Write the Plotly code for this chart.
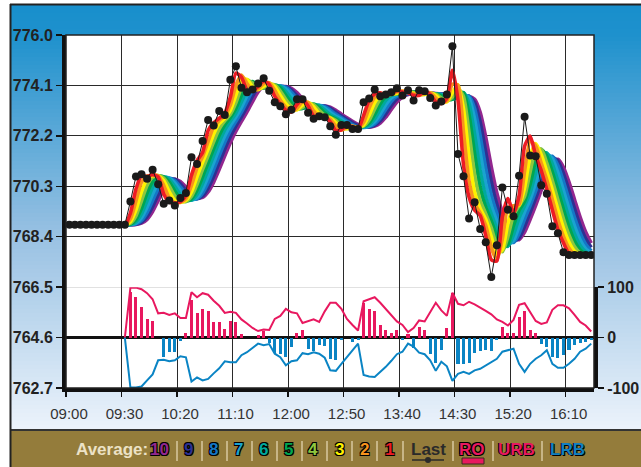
import plotly.graph_objects as go

# ---------------- data ----------------
time_labels = ["09:00", "09:30", "10:20", "11:10", "12:00", "12:50", "13:40", "14:30", "15:20", "16:10"]
price_ticks = [762.7, 764.6, 766.5, 768.4, 770.3, 772.2, 774.1, 776.0]
osc_ticks = [-100, 0, 100]

last_price = [
    768.85, 768.85, 768.85, 768.85, 768.85, 768.85, 768.85, 768.85, 768.85, 768.85, 768.85,
    769.73, 770.67, 770.75, 770.58, 770.92, 770.38, 769.64, 769.76, 769.58, 769.86,
    770.05, 771.39, 771.14, 772.01, 772.80, 772.59, 773.14, 772.99, 774.31, 774.82,
    774.01, 773.84, 773.95, 774.17, 774.37, 773.90, 773.47, 773.32, 773.01, 773.18,
    773.58, 773.58, 773.07, 772.84, 772.94, 772.90, 772.56, 772.24, 772.61, 772.61,
    772.46, 772.46, 773.47, 773.61, 773.95, 773.69, 773.76, 773.84, 773.99, 773.72,
    773.92, 773.53, 773.92, 773.88, 773.63, 773.34, 773.49, 773.76, 775.58, 771.52,
    770.68, 769.09, 769.70, 768.69, 768.19, 766.88, 768.08, 770.25, 769.42, 769.17,
    770.70, 772.92, 771.46, 771.43, 770.34, 770.02, 768.79, 768.53, 767.81, 767.71,
    767.71, 767.71, 767.71, 767.71,
]

rainbow_osc = [
    0, 0, 0, 0, 0, 0, 0, 0, 0, 0, 0,
    91, 81, 61, 37, 33, 0, -38, -28, -28, -7,
    10, 75, 48, 56, 52, 30, 30, 17, 32, 31,
    7, 0, 0, 5, 14, -11, -30, -33, -38, -18,
    10, 15, -22, -27, -14, -17, -42, -44, -5, 0,
    -9, -5, 69, 56, 52, 25, 16, 10, 16, -5,
    7, -20, 20, 16, -32, -50, -25, 18, 89, -53,
    -52, -50, -30, -26, -24, -27, -5, 21, 9, 9,
    41, 53, 16, 9, -12, -18, -38, -40, -35, -24,
    -15, -10, -8, -5,
]

upper_band = [None] * 10 + [
    0, 99, 99, 96, 88, 76, 48, 49, 45, 48,
    39, 39, 90, 80, 88, 85, 73, 63, 49, 51,
    49, 36, 28, 19, 13, 16, 15, 37, 43, 57,
    50, 48, 29, 32, 36, 31, 52, 69, 69, 57,
    37, 25, 14, 72, 76, 80, 69, 57, 45, 32,
    25, 11, 19, 34, 32, 50, 69, 54, 43, 89,
    67, 64, 71, 66, 60, 53, 46, 36, 31, 24,
    35, 65, 68, 50, 33, 27, 30, 55, 64, 64,
    58, 45, 31, 24, 12,
]

lower_band = [None] * 10 + [
    0, -99, -99, -97, -85, -73, -45, -44, -47, -45,
    -37, -39, -87, -79, -85, -82, -71, -61, -47, -49,
    -49, -35, -29, -20, -12, -15, -13, -32, -39, -55,
    -47, -45, -31, -33, -29, -32, -40, -65, -66, -52,
    -38, -25, -12, -74, -77, -78, -68, -58, -46, -33,
    -28, -12, -18, -30, -33, -45, -66, -48, -57, -86,
    -72, -68, -72, -65, -62, -55, -48, -42, -28, -25,
    -22, -52, -68, -52, -42, -35, -25, -52, -60, -60,
    -52, -42, -28, -22, -12,
]

ma_names = ["1", "2", "3", "4", "5", "6", "7", "8", "9", "10"]
ma_colors = ["#ed1c24", "#f7941d", "#fff200", "#8dc63f", "#00a651",
             "#00a99d", "#1aa3d0", "#1477c6", "#2e3192", "#92278f"]

# ---------------- derived rainbow averages (recursive 2-period SMA of the price) ----------------
def sma2(s):
    return [s[0]] + [(s[i - 1] + s[i]) / 2.0 for i in range(1, len(s))]

mas = []
cur = last_price
for _ in range(10):
    cur = sma2(cur)
    mas.append(cur)

n = len(last_price)
xs = list(range(n))

# ---------------- geometry helpers (pixel -> paper) ----------------
W, H = 641, 467
PL, PR, PT, PB = 66, 594, 35, 388
def px(x):
    return (x - PL) / (PR - PL)
def py(y):
    return (PB - y) / (PB - PT)

fig = go.Figure()

# rainbow lines: 10 at the back, 1 on top
for k in range(9, -1, -1):
    fig.add_trace(go.Scatter(
        x=xs, y=mas[k], mode="lines", name=ma_names[k],
        line=dict(color=ma_colors[k], width=3.6, shape="spline", smoothing=0.6),
        yaxis="y", hoverinfo="skip", showlegend=False))

fig.add_trace(go.Scatter(
    x=xs, y=last_price, mode="lines+markers", name="Last",
    line=dict(color="#1a1a1a", width=1),
    marker=dict(color="#1a1a1a", size=8),
    yaxis="y", hoverinfo="skip", showlegend=False))

# oscillator
bar_colors = ["#e8185f" if v >= 0 else "#0a84c4" for v in rainbow_osc]
fig.add_trace(go.Bar(x=xs, y=rainbow_osc, marker=dict(color=bar_colors, line=dict(width=0)),
                     width=0.55, yaxis="y2", hoverinfo="skip", showlegend=False))
fig.add_trace(go.Scatter(x=xs, y=upper_band, mode="lines", line=dict(color="#e8185f", width=2),
                         yaxis="y2", hoverinfo="skip", showlegend=False))
fig.add_trace(go.Scatter(x=xs, y=lower_band, mode="lines", line=dict(color="#0a84c4", width=2),
                         yaxis="y2", hoverinfo="skip", showlegend=False))

# ---------------- background shapes ----------------
shapes = []
def lerp(a, b, t):
    return tuple(a[i] + (b[i] - a[i]) * t for i in range(3))
stops = [(5, (24, 143, 204)), (35, (30, 145, 205)), (230, (150, 192, 226)), (430, (236, 243, 251))]
def grad(y):
    for j in range(len(stops) - 1):
        y0, c0 = stops[j]
        y1, c1 = stops[j + 1]
        if y <= y1:
            t = max(0.0, (y - y0) / (y1 - y0))
            return lerp(c0, c1, t)
    return stops[-1][1]

step = 4
y = 5
while y < 430:
    c = grad(y + step / 2)
    shapes.append(dict(type="rect", xref="paper", yref="paper", layer="below",
                       x0=px(11), x1=px(W + 2), y0=py(y), y1=py(min(y + step + 0.6, 430)),
                       line=dict(width=0), fillcolor="rgb(%d,%d,%d)" % tuple(int(round(v)) for v in c)))
    y += step
# white plot area
shapes.append(dict(type="rect", xref="paper", yref="paper", layer="below", x0=0, x1=1, y0=0, y1=1,
                   line=dict(width=0), fillcolor="white"))
# legend bar
shapes.append(dict(type="rect", xref="paper", yref="paper", layer="below",
                   x0=px(11), x1=px(W + 2), y0=py(430), y1=py(H + 2),
                   line=dict(width=0), fillcolor="#947c3b"))
shapes.append(dict(type="line", xref="paper", yref="paper", x0=px(11), x1=px(W + 2), y0=py(430), y1=py(430),
                   line=dict(color="#333333", width=2)))
# outer border
shapes.append(dict(type="line", xref="paper", yref="paper", x0=px(10), x1=px(W + 2), y0=py(4.5), y1=py(4.5),
                   line=dict(color="#222222", width=2)))
shapes.append(dict(type="line", xref="paper", yref="paper", x0=px(10.5), x1=px(10.5), y0=py(4), y1=py(H + 2),
                   line=dict(color="#222222", width=2)))
# thin plot frame (top / right)
shapes.append(dict(type="rect", xref="paper", yref="paper", x0=0, x1=1, y0=0, y1=1,
                   line=dict(color="#222222", width=1.5)))

# ---------------- legend bar texts ----------------
annotations = []
LY = py(449.5)
outline = "1px 1px 0 #000, -1px -1px 0 #000, 1px -1px 0 #000, -1px 1px 0 #000"
def txt(x, s, color, shadow=None, size=16):
    f = dict(family="Liberation Sans, Arial, sans-serif", size=size, color=color, weight="bold")
    if shadow:
        f["shadow"] = shadow
    annotations.append(dict(x=px(x), y=LY, xref="paper", yref="paper", text=s, showarrow=False,
                            xanchor="center", yanchor="middle", font=f))

txt(112, "Average:", "#ece2c6", size=17)
num_x = [159, 188, 213, 238, 263, 288, 313, 339, 364, 389]
for j, k in enumerate(range(9, -1, -1)):
    txt(num_x[j], ma_names[k], ma_colors[k], outline, size=17)
txt(428, "Last", "#2a2a2a", size=17)
txt(472, "RO", "#e8185f", outline, size=17)
txt(516, "URB", "#e8185f", "1px 1px 0 #000, -1px 0 0 #000", size=17)
txt(567, "LRB", "#1280c3", "1px 1px 0 #000, -1px 0 0 #000", size=17)

for sx in [177, 202, 227, 252, 277, 302, 327, 352, 377, 403, 453, 493, 542]:
    shapes.append(dict(type="line", xref="paper", yref="paper", x0=px(sx), x1=px(sx), y0=py(441), y1=py(461),
                       line=dict(color="#d8c8a0", width=1.5)))
# "Last" underline with dot, "RO" swatch
shapes.append(dict(type="line", xref="paper", yref="paper", x0=px(412), x1=px(444), y0=py(460), y1=py(460),
                   line=dict(color="#2a2a2a", width=1.5)))
shapes.append(dict(type="circle", xref="paper", yref="paper", x0=px(425), x1=px(431), y0=py(457), y1=py(463),
                   fillcolor="#2a2a2a", line=dict(width=0)))
shapes.append(dict(type="rect", xref="paper", yref="paper", x0=px(462), x1=px(484), y0=py(458), y1=py(464),
                   fillcolor="#e8185f", line=dict(color="#3a2a20", width=1)))

# ---------------- layout ----------------
tickfont_bold = dict(family="Liberation Sans, Arial, sans-serif", size=16, color="#222222", weight="bold")
fig.update_layout(
    width=W, height=H, autosize=False,
    margin=dict(l=PL, r=W - PR, t=PT, b=H - PB, pad=0, autoexpand=False),
    paper_bgcolor="white", plot_bgcolor="white",
    showlegend=False, hovermode=False, bargap=0,
    shapes=shapes, annotations=annotations,
    xaxis=dict(range=[-0.6, 94.5], tickmode="array",
               tickvals=[-0.6 + 10 * k for k in range(len(time_labels))], ticktext=time_labels,
               showgrid=True, gridcolor="#2a2a2a", gridwidth=1,
               showline=True, linecolor="#111111", linewidth=4,
               ticks="outside", ticklen=5, tickwidth=1.5, tickcolor="#111111",
               ticklabelshift=3, ticklabelstandoff=4,
               tickfont=dict(family="Liberation Sans, Arial, sans-serif", size=15, color="#333333"),
               zeroline=False, fixedrange=True, automargin=False),
    yaxis=dict(range=[762.7, 776.0], tickmode="array", tickvals=price_ticks,
               ticktext=["%.1f" % v for v in price_ticks],
               showgrid=True, gridcolor="#2a2a2a", gridwidth=1,
               showline=True, linecolor="#111111", linewidth=4,
               ticks="outside", ticklen=6, tickwidth=1.5, tickcolor="#111111",
               tickfont=tickfont_bold, zeroline=False, fixedrange=True, automargin=False),
    yaxis2=dict(domain=[0, 2.0 / 7.0], anchor="x", side="right", range=[-100, 100],
                tickmode="array", tickvals=osc_ticks, ticktext=[str(v) for v in osc_ticks],
                showgrid=False, zeroline=True, zerolinecolor="#111111", zerolinewidth=2.5,
                showline=True, linecolor="#111111", linewidth=4,
                ticks="outside", ticklen=6, tickwidth=1.5, tickcolor="#111111",
                tickfont=tickfont_bold, fixedrange=True, automargin=False),
)

fig.write_html("out.html", config={"displayModeBar": False, "staticPlot": True},
               post_script="document.body.style.margin='0px';document.body.style.overflow='hidden';")
